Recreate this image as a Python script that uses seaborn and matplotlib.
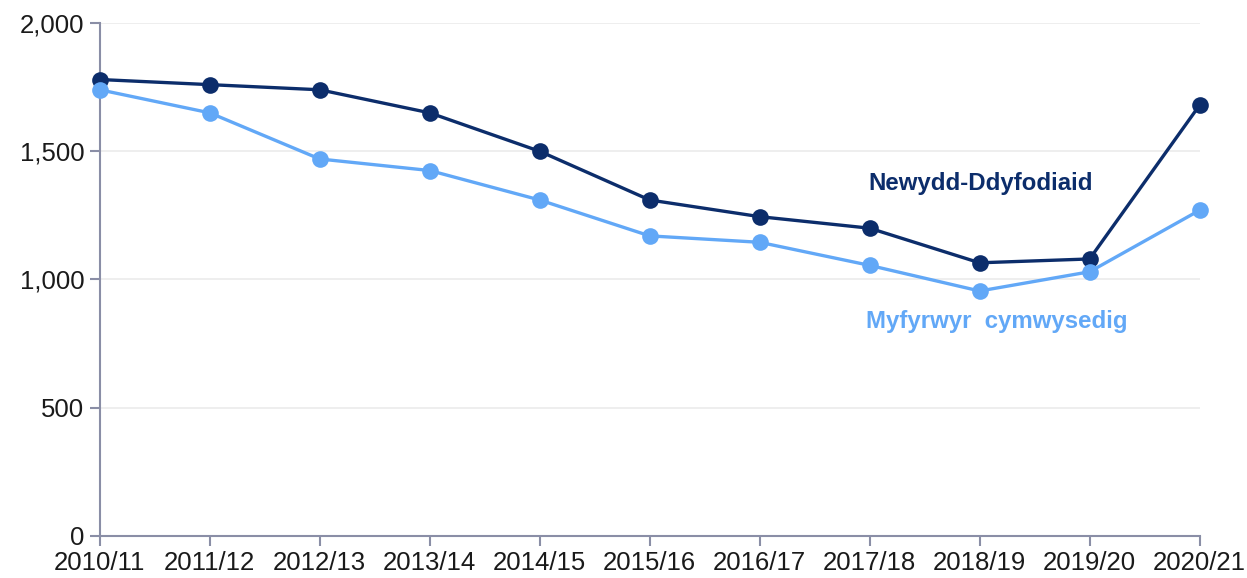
import pandas as pd
import matplotlib.pyplot as plt
import seaborn as sns

years = ['2010/11', '2011/12', '2012/13', '2013/14', '2014/15', '2015/16',
         '2016/17', '2017/18', '2018/19', '2019/20', '2020/21']
newydd = [1780, 1760, 1740, 1650, 1500, 1310, 1245, 1200, 1065, 1080, 1680]
myfyrwyr = [1740, 1650, 1470, 1425, 1310, 1170, 1145, 1055, 955, 1030, 1270]

series_names = ['Newydd-Ddyfodiaid', 'Myfyrwyr  cymwysedig']
colors = ['#0c2d6b', '#62a8f7']

df = pd.DataFrame({
    'year': years * 2,
    'x': list(range(len(years))) * 2,
    'value': newydd + myfyrwyr,
    'series': [series_names[0]] * len(years) + [series_names[1]] * len(years),
})

sns.set_style('white')
plt.rcParams['font.family'] = ['Liberation Sans', 'DejaVu Sans']

fig = plt.figure(figsize=(12.47, 5.78), dpi=100)
ax = fig.add_axes([0.080, 0.073, 0.882, 0.887])

sns.lineplot(data=df, x='x', y='value', hue='series', palette=colors,
             marker='o', markersize=12, markeredgewidth=0, linewidth=2.4,
             legend=False, ax=ax)
for line in ax.lines:
    line.set_clip_on(False)
    line.set_zorder(3)

ax.set_xlim(0, len(years) - 1)
ax.set_ylim(0, 2000)
ax.set_xticks(range(len(years)))
ax.set_xticklabels(years)
ax.set_yticks([0, 500, 1000, 1500, 2000])
ax.set_yticklabels(['0', '500', '1,000', '1,500', '2,000'])
ax.set_xlabel('')
ax.set_ylabel('')

ax.grid(axis='y', color='#ebebeb', linewidth=1.2)
ax.set_axisbelow(True)
for side in ['top', 'right']:
    ax.spines[side].set_visible(False)
for side in ['left', 'bottom']:
    ax.spines[side].set_color('#8a8ea6')
    ax.spines[side].set_linewidth(1.5)
ax.tick_params(axis='both', which='major', direction='out', length=7,
               width=1.5, color='#8a8ea6', labelsize=18.5,
               labelcolor='#1a1a1a', pad=4, bottom=True, left=True)

ax.text(6.99, 1375, series_names[0], color=colors[0], fontsize=17.3,
        fontweight='bold', va='center', ha='left')
ax.text(6.97, 835, series_names[1], color=colors[1], fontsize=17.3,
        fontweight='bold', va='center', ha='left')

fig.savefig('out.png', dpi=100)
